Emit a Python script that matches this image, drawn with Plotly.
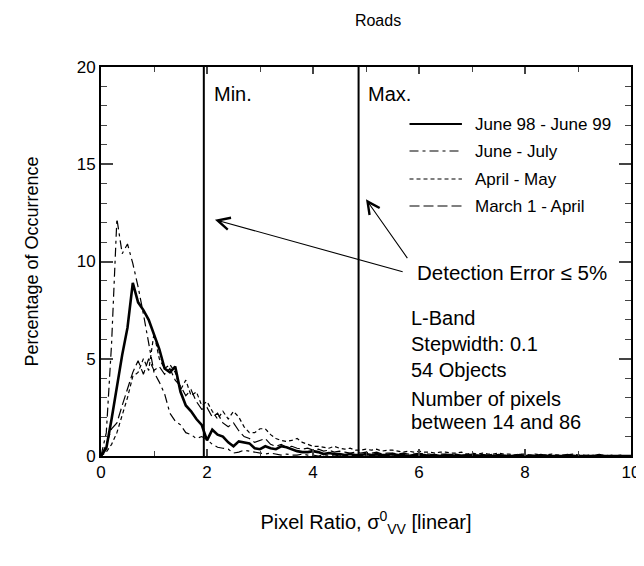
import plotly.graph_objects as go

# ---------------- data ----------------
ratio_bins = [round(0.1 * i, 1) for i in range(101)]

june98_june99 = [
    0, 0.4, 1.9, 3.6, 5.2, 6.6, 8.9, 7.9, 7.5, 7.0,
    6.3, 5.5, 4.5, 4.3, 4.6, 3.3, 2.6, 2.3, 1.9, 1.6,
    0.8, 1.35, 1.1, 1.0, 0.7, 0.5, 0.75, 0.7, 0.65, 0.4,
    0.35, 0.5, 0.4, 0.35, 0.5, 0.45, 0.35, 0.25, 0.2, 0.2,
    0.25, 0.2, 0.1, 0.15, 0.1, 0.1, 0.05, 0.1, 0.05, 0.05,
    0.1, 0.05, 0.1, 0.05, 0.05, 0.1, 0.05, 0.05, 0, 0.05,
    0.05, 0.05, 0, 0.05, 0, 0.05, 0.05, 0, 0, 0.05,
    0, 0, 0.05, 0, 0, 0.05, 0, 0, 0, 0.05,
    0, 0, 0, 0.05, 0, 0, 0, 0, 0.05, 0,
    0, 0, 0, 0, 0.05, 0, 0, 0, 0, 0, 0,
]

june_july = [
    0, 1.2, 5.8, 12.2, 10.4, 10.9, 9.9, 8.7, 7.3, 5.7,
    4.3, 3.8, 3.2, 2.2, 1.8, 1.6, 1.2, 1.1, 0.9, 1.0,
    0.85, 0.6, 0.45, 0.4, 0.35, 0.15, 0.2, 0.3, 0.25, 0.2,
    0.15, 0.1, 0.15, 0.1, 0.05, 0.1, 0.05, 0.05, 0.1, 0.05,
    0.05, 0, 0.05, 0.05, 0, 0.05, 0, 0.05, 0, 0,
    0.05, 0, 0.05, 0, 0, 0.05, 0, 0, 0.05, 0,
    0, 0, 0.05, 0, 0, 0, 0.05, 0, 0, 0,
    0, 0.05, 0, 0, 0, 0, 0, 0.05, 0, 0,
    0, 0, 0, 0, 0.05, 0, 0, 0, 0, 0,
    0, 0, 0, 0, 0, 0, 0, 0, 0, 0, 0,
]

april_may = [
    0, 0.2, 0.6, 1.2, 2.1, 3.0, 4.1, 4.3, 5.0, 4.4,
    6.3, 5.0, 4.5, 4.7, 4.3, 3.4, 3.9, 3.1, 3.3, 2.6,
    2.8, 2.3, 1.9, 2.3, 1.9, 2.3, 2.0, 1.5, 1.2, 1.2,
    1.4, 1.4, 1.1, 0.9, 0.8, 0.75, 0.8, 0.9, 0.7, 0.6,
    0.5, 0.5, 0.45, 0.4, 0.5, 0.4, 0.35, 0.4, 0.3, 0.3,
    0.35, 0.3, 0.35, 0.25, 0.3, 0.3, 0.25, 0.2, 0.25, 0.2,
    0.25, 0.2, 0.2, 0.15, 0.2, 0.2, 0.15, 0.15, 0.2, 0.1,
    0.15, 0.1, 0.15, 0.1, 0.1, 0.15, 0.1, 0.1, 0.05, 0.1,
    0.1, 0.05, 0.1, 0.05, 0.05, 0.1, 0.05, 0.05, 0.05, 0.1,
    0.05, 0.05, 0, 0.05, 0.05, 0, 0.05, 0, 0.05, 0, 0,
]

march_april = [
    0, 0.6, 1.4, 1.7, 2.6, 3.5, 4.3, 4.9, 4.2, 5.0,
    4.4, 4.6, 4.2, 4.5, 3.9, 3.6, 3.1, 3.4, 2.8, 2.4,
    2.5, 2.0, 2.2, 1.7, 1.5, 1.7, 1.3, 1.0, 0.9, 0.7,
    0.8, 0.9, 0.6, 0.5, 0.6, 0.45, 0.5, 0.4, 0.35, 0.4,
    0.3, 0.35, 0.25, 0.3, 0.2, 0.25, 0.2, 0.15, 0.2, 0.15,
    0.2, 0.15, 0.2, 0.1, 0.15, 0.15, 0.1, 0.15, 0.1, 0.1,
    0.15, 0.1, 0.1, 0.05, 0.1, 0.1, 0.05, 0.1, 0.05, 0.05,
    0.1, 0.05, 0.05, 0.05, 0.1, 0.05, 0.05, 0, 0.05, 0.05,
    0, 0.05, 0.05, 0, 0.05, 0, 0.05, 0, 0, 0.05,
    0, 0, 0.05, 0, 0, 0.05, 0, 0, 0, 0, 0,
]

series_names = ["June 98 - June 99", "June - July", "April - May", "March 1 - April"]
series_values = [june98_june99, june_july, april_may, march_april]

min_ratio = 1.94
max_ratio = 4.86

info_lines = ["L-Band", "Stepwidth: 0.1", "54 Objects", "Number of pixels", "between 14 and 86"]

# ---------------- styles ----------------
styles = [
    dict(width=2.6, dash="solid"),
    dict(width=1.2, dash="9px,4px,3px,4px"),
    dict(width=1.2, dash="4px,3px"),
    dict(width=1.2, dash="10px,4px"),
]

FONT = "Liberation Sans, Arial, Helvetica, sans-serif"

fig = go.Figure()
for name, vals, st in zip(series_names, series_values, styles):
    fig.add_trace(go.Scatter(
        x=ratio_bins, y=vals, mode="lines", name=name,
        line=dict(color="black", width=st["width"], dash=st["dash"]),
        showlegend=False,
    ))

# plot area pixel geometry
W, H = 644, 566
L, R, T, B = 93, 15, 59, 118
pw, ph = W - L - R, H - T - B

def px(xp):
    return (xp - L) / pw

def py(yp):
    return (H - B - yp) / ph

shapes = []
annotations = []

# Min / Max vertical lines
for xv in (min_ratio, max_ratio):
    shapes.append(dict(type="line", xref="x", yref="paper", x0=xv, x1=xv, y0=0, y1=1,
                       line=dict(color="black", width=2)))

annotations.append(dict(x=px(205), y=py(86), xref="paper", yref="paper", text="Min.",
                        showarrow=False, xanchor="left", yanchor="middle",
                        font=dict(size=20, color="black", family=FONT)))
annotations.append(dict(x=px(361), y=py(86), xref="paper", yref="paper", text="Max.",
                        showarrow=False, xanchor="left", yanchor="middle",
                        font=dict(size=20, color="black", family=FONT)))

# manual legend
leg_rows = [116, 143, 171, 198]
for name, st, yr in zip(series_names, styles, leg_rows):
    shapes.append(dict(type="line", xref="paper", yref="paper",
                       x0=px(405), x1=px(458), y0=py(yr), y1=py(yr),
                       line=dict(color="black",
                                 width=2.0 if st["dash"] == "solid" else st["width"],
                                 dash=st["dash"])))
    annotations.append(dict(x=px(469), y=py(yr), xref="paper", yref="paper", text=name,
                            showarrow=False, xanchor="left", yanchor="middle",
                            font=dict(size=17, color="black", family=FONT)))

# Detection error arrows
annotations.append(dict(x=2.15, y=12.15, xref="x", yref="y", ax=5.72, ay=9.45,
                        axref="x", ayref="y", text="", showarrow=True,
                        arrowhead=5, arrowsize=2.2, arrowwidth=1.1, arrowcolor="black"))
annotations.append(dict(x=5.0, y=13.2, xref="x", yref="y", ax=5.8, ay=10.1,
                        axref="x", ayref="y", text="", showarrow=True,
                        arrowhead=5, arrowsize=2.2, arrowwidth=1.1, arrowcolor="black"))
annotations.append(dict(x=px(411), y=py(264), xref="paper", yref="paper",
                        text="Detection Error \u2264 5%", showarrow=False,
                        xanchor="left", yanchor="middle",
                        font=dict(size=20.5, color="black", family=FONT)))

# info text block
info_y = [310, 336, 362, 391, 414]
for txt, yv in zip(info_lines, info_y):
    annotations.append(dict(x=px(404), y=py(yv), xref="paper", yref="paper", text=txt,
                            showarrow=False, xanchor="left", yanchor="middle",
                            font=dict(size=20, color="black", family=FONT)))

fig.update_layout(
    width=W, height=H,
    margin=dict(l=L, r=R, t=T, b=B),
    paper_bgcolor="white", plot_bgcolor="white",
    font=dict(family=FONT, color="black", size=17),
    title=dict(text="Roads", x=370 / W, xanchor="center",
               y=1 - 12 / H, yanchor="middle", font=dict(size=16, family=FONT)),
    shapes=shapes, annotations=annotations,
    xaxis=dict(range=[0, 10], dtick=2, tick0=0, ticks="inside", ticklen=7, tickwidth=1.5,
               minor=dict(dtick=1, ticks="inside", ticklen=5, tickwidth=1.2),
               showline=True, linecolor="black", linewidth=2, mirror="ticks",
               showgrid=False, zeroline=False, tickfont=dict(size=17),
               title=dict(text="Pixel Ratio, \u03c3<sup>0</sup><sub>VV</sub> [linear]",
                          font=dict(size=20), standoff=34)),
    yaxis=dict(range=[0, 20], dtick=5, tick0=0, ticks="inside", ticklen=12, tickwidth=1.5,
               minor=dict(dtick=1, ticks="inside", ticklen=6, tickwidth=1.2),
               showline=True, linecolor="black", linewidth=2, mirror="ticks",
               showgrid=False, zeroline=False, tickfont=dict(size=17),
               title=dict(text="Percentage of Occurrence", font=dict(size=18), standoff=33)),
)

fig.write_html("out.html")
